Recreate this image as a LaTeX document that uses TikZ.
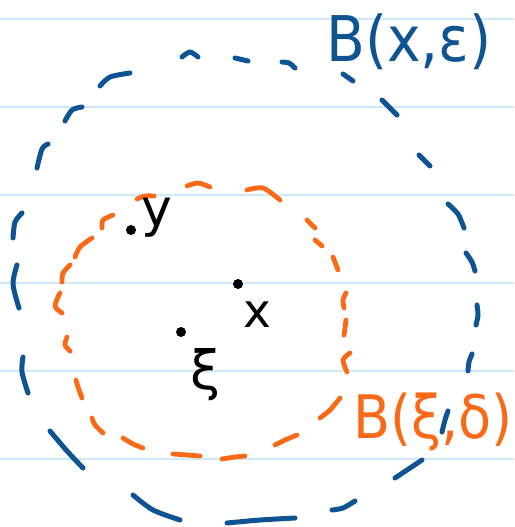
\documentclass[tikz,border=0pt]{standalone}
\usepackage{fontspec}
\setmainfont{DejaVu Sans}
\definecolor{penblue}{RGB}{14,84,146}
\definecolor{penorange}{RGB}{250,106,22}
\definecolor{ruleblue}{RGB}{206,233,250}
\tikzset{
  ruling/.style={ruleblue, line width=2.5pt},
  bdash/.style={penblue, line width=5pt, line cap=round, line join=round},
  odash/.style={penorange, line width=4.8pt, line cap=round, line join=round},
  pt/.style={circle, fill=black, inner sep=0pt, minimum size=10pt},
  lbl/.style={inner sep=0pt, anchor=base}
}
\begin{document}
\begin{tikzpicture}[x=1pt, y=-1pt]
\useasboundingbox[fill=white] (0,0) rectangle (514,527);
% notebook rulings
\foreach \yy in {19,107,195,283,371,459}
  \draw[ruling] (0,\yy) -- (514,\yy);
% big blue dashed circle B(x,eps)
\draw[bdash] plot[smooth] coordinates {(182,57) (190,52) (198,57)};
\draw[bdash] plot[smooth] coordinates {(235,58) (248,61)};
\draw[bdash] plot[smooth] coordinates {(282,62) (289,63) (295,68)};
\draw[bdash] plot[smooth] coordinates {(343,74) (353,81)};
\draw[bdash] plot[smooth] coordinates {(382,100) (397,115)};
\draw[bdash] plot[smooth] coordinates {(419,155) (430,166)};
\draw[bdash] plot[smooth] coordinates {(448,204) (458,214) (464,228)};
\draw[bdash] plot[smooth] coordinates {(466,253) (472,262) (475,271)};
\draw[bdash] plot[smooth] coordinates {(477,305) (478,315) (476,325)};
\draw[bdash] plot[smooth] coordinates {(472,354) (469,362) (468,371)};
\draw[bdash] plot[smooth] coordinates {(448,411) (445,420) (442,432)};
\draw[bdash] plot[smooth] coordinates {(422,460) (407,470) (395,478)};
\draw[bdash] plot[smooth] coordinates {(355,501) (343,508) (332,510)};
\draw[bdash] plot[smooth] coordinates {(295,518) (260,520) (227,523)};
\draw[bdash] plot[smooth] coordinates {(180,520) (153,510) (133,495)};
\draw[bdash] plot[smooth] coordinates {(83,468) (67,451) (50,431)};
\draw[bdash] plot[smooth] coordinates {(23,357) (22,372) (28,393)};
\draw[bdash] plot[smooth] coordinates {(17,265) (13,284) (19,308)};
\draw[bdash] plot[smooth] coordinates {(22,213) (15,222) (13,238)};
\draw[bdash] plot[smooth] coordinates {(48,144) (42,149) (37,168)};
\draw[bdash] plot[smooth] coordinates {(82,107) (72,110) (65,121)};
\draw[bdash] plot[smooth] coordinates {(130,73) (110,77) (100,86)};
% orange dashed circle B(xi,delta)
\draw[odash] plot[smooth] coordinates {(137,199) (145,196) (154,196)};
\draw[odash] plot[smooth] coordinates {(187,186) (198,183) (210,187)};
\draw[odash] plot[smooth] coordinates {(247,190) (263,188) (280,200)};
\draw[odash] plot[smooth] coordinates {(307,220) (315,228)};
\draw[odash] plot[smooth] coordinates {(315,240) (322,246)};
\draw[odash] plot[smooth] coordinates {(333,257) (338,270)};
\draw[odash] plot[smooth] coordinates {(346,293) (343,300) (344,308)};
\draw[odash] plot[smooth] coordinates {(346,320) (344,335)};
\draw[odash] plot[smooth] coordinates {(350,353) (343,360) (347,372)};
\draw[odash] plot[smooth] coordinates {(340,398) (330,410) (320,418)};
\draw[odash] plot[smooth] coordinates {(297,435) (285,440) (275,445)};
\draw[odash] plot[smooth] coordinates {(245,456) (235,457) (222,459)};
\draw[odash] plot[smooth] coordinates {(200,456) (187,455) (173,454)};
\draw[odash] plot[smooth] coordinates {(143,448) (133,444) (123,438)};
\draw[odash] plot[smooth] coordinates {(103,433) (95,425) (92,418)};
\draw[odash] plot[smooth] coordinates {(76,380) (78,387) (82,398)};
\draw[odash] plot[smooth] coordinates {(67,337) (65,345) (70,351)};
\draw[odash] plot[smooth] coordinates {(60,293) (55,306) (62,313)};
\draw[odash] plot[smooth] coordinates {(70,265) (63,273) (62,282)};
\draw[odash] plot[smooth] coordinates {(92,238) (80,247) (75,257)};
\draw[odash] plot[smooth] coordinates {(113,215) (103,220) (102,228)};
% labels of the balls
\node[lbl, anchor=base west, text=penblue, xscale=0.9, font=\fontsize{63}{66}\selectfont] (lblue) at (326,62) {B(x,ε)};
\node[lbl, anchor=base west, text=penorange, xscale=0.9, font=\fontsize{60}{64}\selectfont] (lorange) at (353,438) {B(ξ,δ)};
% points
\node[pt] (py) at (131,230) {};
\node[pt] (px) at (238,284) {};
\node[pt] (pz) at (181,332) {};
\node[lbl, font=\fontsize{52}{56}\selectfont] (ly) at (157,226) {y};
\node[lbl, font=\fontsize{47}{50}\selectfont] (lx) at (257,327) {x};
\node[lbl, font=\fontsize{54}{58}\selectfont] (lz) at (206,389) {ξ};
\end{tikzpicture}
\end{document}
